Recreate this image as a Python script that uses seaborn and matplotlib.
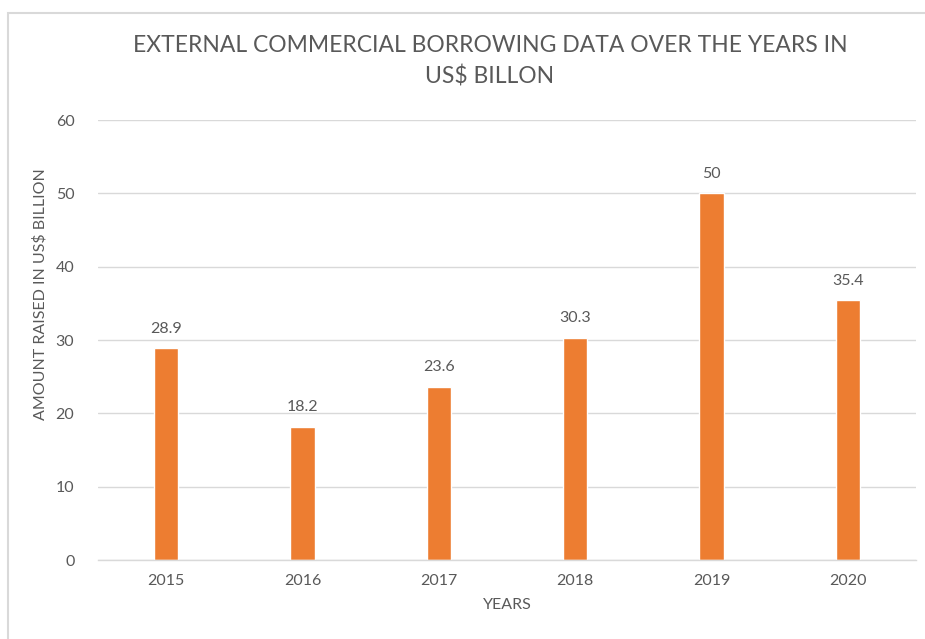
import matplotlib
matplotlib.use("Agg")
import matplotlib.pyplot as plt
import seaborn as sns
import pandas as pd
from matplotlib.patches import Rectangle

years = ["2015", "2016", "2017", "2018", "2019", "2020"]
amounts = [28.9, 18.2, 23.6, 30.3, 50, 35.4]
value_labels = ["28.9", "18.2", "23.6", "30.3", "50", "35.4"]
yticks = [0, 10, 20, 30, 40, 50, 60]

sns.set_theme(style="white")
plt.rcParams['font.family'] = ['Lato', 'DejaVu Sans']

TXT = "#595959"
ORANGE = "#ED7D31"
GRID = "#D9D9D9"

W, H = 925, 639
fig = plt.figure(figsize=(W / 100, H / 100), dpi=100)
fig.patch.set_facecolor("white")

# chart border (top and left visible)
fig.patches.append(Rectangle((8 / W, -0.1), 1.2, (H - 13) / H + 0.1,
                             transform=fig.transFigure, fill=False,
                             edgecolor="#D9D9D9", linewidth=1.5))

ax = fig.add_axes([98 / W, 1 - 560 / H, (916 - 98) / W, (560 - 120) / H])
df = pd.DataFrame({"year": years, "amount": amounts})
sns.barplot(data=df, x="year", y="amount", color=ORANGE, saturation=1,
            width=0.18, ax=ax)

ax.set_ylim(0, 60)
ax.set_yticks(yticks)
ax.set_xlim(-0.5, 5.5)
ax.yaxis.grid(True, color=GRID, linewidth=1)
ax.set_axisbelow(True)
for s in ["top", "right", "left"]:
    ax.spines[s].set_visible(False)
ax.spines["bottom"].set_color(GRID)
ax.spines["bottom"].set_linewidth(1)
ax.tick_params(axis="both", length=0, labelsize=11.5, colors=TXT, pad=10)
ax.tick_params(axis="y", pad=17)

for i, (v, lab) in enumerate(zip(amounts, value_labels)):
    ax.annotate(lab, (i, v), xytext=(0, 9), textcoords="offset points",
                ha="center", va="bottom", fontsize=11.5, color=TXT)

ax.set_xlabel("YEARS", fontsize=11.5, color=TXT)
ax.xaxis.set_label_coords(0.5, -(605 - 560) / 440, transform=ax.transAxes)
ax.xaxis.label.set_va("center")
ax.set_ylabel("AMOUNT RAISED IN US$ BILLION", fontsize=11.5, color=TXT)
ax.yaxis.set_label_coords(-(98 - 40) / 818, (560 - 294) / 440, transform=ax.transAxes)
ax.yaxis.label.set_va("center")

fig.text(490 / W, 1 - 61 / H,
         "EXTERNAL COMMERCIAL BORROWING DATA OVER THE YEARS IN\nUS$ BILLON",
         ha="center", va="center", fontsize=16.5, color=TXT, linespacing=1.55)

fig.savefig("out.png", dpi=100, facecolor="white")
